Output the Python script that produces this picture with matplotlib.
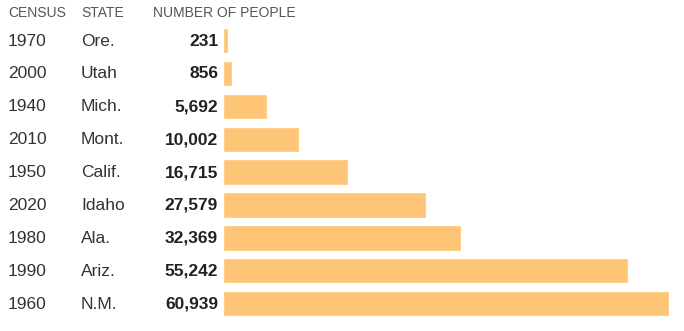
import matplotlib.pyplot as plt
from matplotlib.transforms import blended_transform_factory

years = ["1970", "2000", "1940", "2010", "1950", "2020", "1980", "1990", "1960"]
states = ["Ore.", "Utah", "Mich.", "Mont.", "Calif.", "Idaho", "Ala.", "Ariz.", "N.M."]
people = [231, 856, 5692, 10002, 16715, 27579, 32369, 55242, 60939]

W, H = 684, 331
fig = plt.figure(figsize=(W / 100, H / 100), dpi=100)
plt.rcParams["font.family"] = ["Liberation Sans", "DejaVu Sans"]

# bars live in their own axes; labels go to the left in figure coords
ax = fig.add_axes([225 / W, 0, 443 / W, 1])
ax.set_xlim(0, max(people))
row0, step = 41, 32.9
ax.set_ylim((H - row0) / step, -row0 / step)
ax.axis("off")

ypos = list(range(len(years)))
ax.barh(ypos, people, height=0.68, color="#fec577", edgecolor="#fec577",
        linewidth=1.2, clip_on=False)

tr = blended_transform_factory(fig.transFigure, ax.transData)
for i, (yr, st, n) in enumerate(zip(years, states, people)):
    ax.text(8 / W, i, yr, transform=tr, ha="left", va="center",
            fontsize=12.5, color="#333333")
    ax.text(81 / W, i, st, transform=tr, ha="left", va="center",
            fontsize=12.5, color="#333333")
    ax.text(218 / W, i, f"{n:,}", transform=tr, ha="right", va="center",
            fontsize=12.5, fontweight="bold", color="#222222")

hdr_y = -row0 / step + 13 / step
for x, label in [(8, "CENSUS"), (81, "STATE"), (153, "NUMBER OF PEOPLE")]:
    ax.text(x / W, hdr_y, label, transform=tr, ha="left", va="center",
            fontsize=10, color="#555555")

fig.savefig("out.png", dpi=100)
